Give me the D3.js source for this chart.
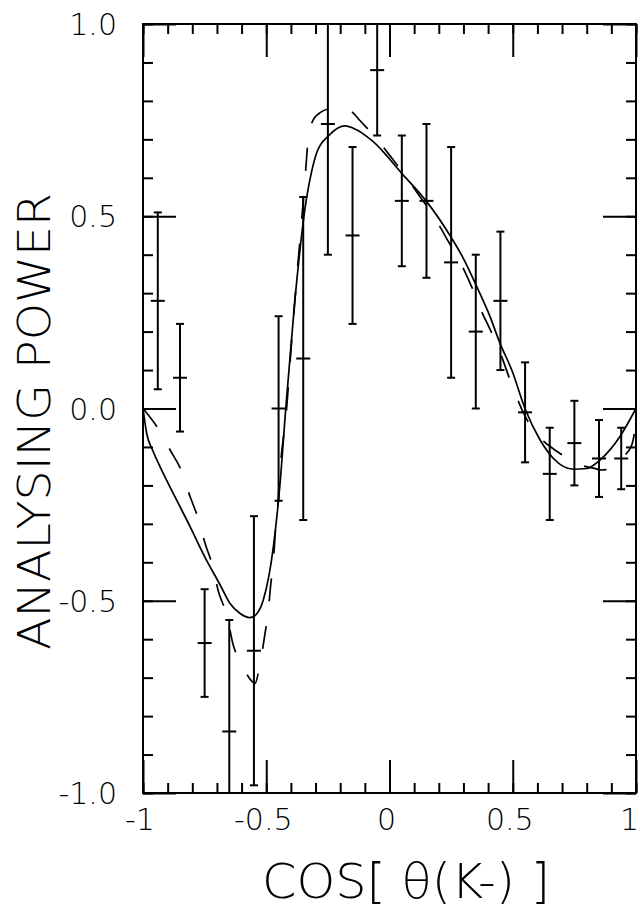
<!DOCTYPE html>
<html>
<head>
<meta charset="utf-8">
<script src="https://cdn.jsdelivr.net/npm/d3@7/dist/d3.min.js"></script>
<style>
  html, body { margin: 0; padding: 0; background: #fff; }
  svg { display: block; }
  text { font-family: "DejaVu Sans", sans-serif; font-weight: 200; fill: #000; }
</style>
</head>
<body>
<svg id="chart" width="640" height="909"></svg>
<script>
// ---- data ----
const cosTheta = [-0.94, -0.85, -0.75, -0.65, -0.55, -0.45, -0.35, -0.25, -0.15, -0.05,
                   0.05,  0.15,  0.25,  0.35,  0.45,  0.55,  0.65,  0.75,  0.85,  0.94];
const power    = [ 0.28,  0.08, -0.61, -0.84, -0.63,  0.00,  0.13,  0.74,  0.45,  0.88,
                   0.54,  0.54,  0.38,  0.20,  0.28, -0.01, -0.17, -0.09, -0.13, -0.13];
const powerErr = [ 0.23,  0.14,  0.14,  0.29,  0.35,  0.24,  0.42,  0.34,  0.23,  0.17,
                   0.17,  0.20,  0.30,  0.20,  0.18,  0.13,  0.12,  0.11,  0.10,  0.08];

const solidX = [-1.0, -0.985, -0.96, -0.931, -0.87, -0.809, -0.75, -0.687, -0.647, -0.606, -0.566,
                -0.54, -0.512, -0.471, -0.444, -0.421, -0.386, -0.337, -0.316, -0.295, -0.246,
                -0.18, -0.147, -0.066, 0.049, 0.151, 0.252, 0.30, 0.354, 0.408, 0.448, 0.496,
                0.552, 0.611, 0.665, 0.746, 0.80, 0.854, 0.935, 1.0];
const solidY = [0.0, -0.065, -0.11, -0.151, -0.23, -0.307, -0.385, -0.459, -0.507, -0.533, -0.544,
                -0.535, -0.498, -0.359, -0.195, -0.001, 0.267, 0.545, 0.616, 0.666, 0.710,
                0.735, 0.729, 0.694, 0.612, 0.538, 0.443, 0.39, 0.317, 0.239, 0.170, 0.100,
                -0.004, -0.082, -0.130, -0.158, -0.156, -0.134, -0.073, 0.0];

const dashedX = [-1.0, -0.944, -0.89, -0.843, -0.809, -0.776, -0.748, -0.717, -0.694, -0.66, -0.634,
                 -0.60, -0.57, -0.546, -0.525, -0.505, -0.492, -0.482, -0.471, -0.464, -0.455,
                 -0.44, -0.42, -0.40, -0.375, -0.355, -0.34, -0.33, -0.31, -0.28, -0.24, -0.19,
                 -0.15, -0.12, -0.045, 0.013, 0.076, 0.124, 0.191, 0.239, 0.293, 0.333, 0.374,
                 0.415, 0.455, 0.489, 0.55, 0.60, 0.644, 0.725, 0.78, 0.827, 0.86, 0.915, 0.95,
                 0.983, 1.0];
const dashedY = [0.0, -0.047, -0.108, -0.164, -0.229, -0.286, -0.351, -0.411, -0.476, -0.537, -0.615,
                 -0.663, -0.70, -0.715, -0.663, -0.585, -0.528, -0.459, -0.398, -0.329, -0.268,
                 -0.13, -0.02, 0.15, 0.35, 0.50, 0.62, 0.70, 0.75, 0.77, 0.78, 0.783,
                 0.77, 0.749, 0.696, 0.648, 0.594, 0.551, 0.488, 0.434, 0.373, 0.317, 0.252,
                 0.196, 0.135, 0.074, -0.02, -0.07, -0.095, -0.130, -0.148, -0.155, -0.16, -0.151, -0.125,
                 -0.095, -0.04];

const xMajorTicks = [-1, -0.5, 0, 0.5, 1];
const xTickLabels = ["-1", "-0.5", "0", "0.5", "1"];
const yMajorTicks = [-1, -0.5, 0, 0.5, 1];
const yTickLabels = ["-1.0", "-0.5", "0.0", "0.5", "1.0"];
const xTitle = "COS[ \u03B8(K-) ]";
const yTitle = "ANALYSING POWER";

// ---- layout ----
const L = 143, R = 636, T = 24, B = 793;
const svg = d3.select("#chart");
const x = d3.scaleLinear().domain([-1, 1]).range([L, R]);
const y = d3.scaleLinear().domain([-1, 1]).range([B, T]);
const minorVals = d3.range(-10, 11).map(i => i / 10);

function styleAxis(g) {
  g.select(".domain").remove();
  g.selectAll(".tick line").attr("stroke", "#000").attr("stroke-width", 2);
  g.selectAll(".tick text").remove();
}

// minor ticks on all four sides
svg.append("g").attr("transform", `translate(0,${B})`)
  .call(d3.axisBottom(x).tickValues(minorVals).tickSizeInner(-10).tickSizeOuter(0)).call(styleAxis);
svg.append("g").attr("transform", `translate(0,${T})`)
  .call(d3.axisTop(x).tickValues(minorVals).tickSizeInner(-10).tickSizeOuter(0)).call(styleAxis);
svg.append("g").attr("transform", `translate(${L},0)`)
  .call(d3.axisLeft(y).tickValues(minorVals).tickSizeInner(-10).tickSizeOuter(0)).call(styleAxis);
svg.append("g").attr("transform", `translate(${R},0)`)
  .call(d3.axisRight(y).tickValues(minorVals).tickSizeInner(-10).tickSizeOuter(0)).call(styleAxis);
// major ticks
svg.append("g").attr("transform", `translate(0,${B})`)
  .call(d3.axisBottom(x).tickValues(xMajorTicks).tickSizeInner(-33).tickSizeOuter(0)).call(styleAxis);
svg.append("g").attr("transform", `translate(0,${T})`)
  .call(d3.axisTop(x).tickValues(xMajorTicks).tickSizeInner(-33).tickSizeOuter(0)).call(styleAxis);
svg.append("g").attr("transform", `translate(${L},0)`)
  .call(d3.axisLeft(y).tickValues(yMajorTicks).tickSizeInner(-33).tickSizeOuter(0)).call(styleAxis);
svg.append("g").attr("transform", `translate(${R},0)`)
  .call(d3.axisRight(y).tickValues(yMajorTicks).tickSizeInner(-33).tickSizeOuter(0)).call(styleAxis);

// frame
svg.append("rect").attr("x", L).attr("y", T).attr("width", R - L).attr("height", B - T)
  .attr("fill", "none").attr("stroke", "#000").attr("stroke-width", 2);

// tick labels
svg.append("g").selectAll("text").data(xMajorTicks).join("text")
  .attr("x", d => d === 1 ? 639 : x(d) - 3).attr("y", 830)
  .attr("text-anchor", d => d === 1 ? "end" : "middle").attr("font-size", 30)
  .text((d, i) => xTickLabels[i]);
svg.append("g").selectAll("text").data(yMajorTicks).join("text")
  .attr("x", 117).attr("y", d => y(d) + 11)
  .attr("text-anchor", "end").attr("font-size", 30)
  .text((d, i) => yTickLabels[i]);

// titles
svg.append("text").attr("x", 406).attr("y", 898).attr("text-anchor", "middle")
  .attr("font-size", 48).attr("textLength", 288).attr("lengthAdjust", "spacingAndGlyphs")
  .text(xTitle);
svg.append("text").attr("transform", "translate(50,421.5) rotate(-90)")
  .attr("text-anchor", "middle").attr("font-size", 45)
  .attr("textLength", 457).attr("lengthAdjust", "spacingAndGlyphs")
  .text(yTitle);

// clip
svg.append("clipPath").attr("id", "plotclip").append("rect")
  .attr("x", L).attr("y", T).attr("width", R - L).attr("height", B - T);
const plot = svg.append("g").attr("clip-path", "url(#plotclip)");

// curves
const line = d3.line().x(d => x(d[0])).y(d => y(d[1])).curve(d3.curveMonotoneX);
plot.append("path").datum(solidX.map((v, i) => [v, solidY[i]]))
  .attr("d", line).attr("fill", "none").attr("stroke", "#000").attr("stroke-width", 1.7);
plot.append("path").datum(dashedX.map((v, i) => [v, dashedY[i]]))
  .attr("d", line).attr("fill", "none").attr("stroke", "#000").attr("stroke-width", 1.7)
  .attr("stroke-dasharray", "23,25");

// data points with error bars
const pts = cosTheta.map((c, i) => ({ c, p: power[i], e: powerErr[i] }));
const pg = plot.append("g").attr("stroke", "#000").attr("stroke-width", 2);
pg.selectAll(".eb").data(pts).join("line")
  .attr("x1", d => x(d.c)).attr("x2", d => x(d.c))
  .attr("y1", d => y(d.p - d.e)).attr("y2", d => y(d.p + d.e));
pg.selectAll(".cross").data(pts).join("line")
  .attr("x1", d => x(d.c) - 7).attr("x2", d => x(d.c) + 7)
  .attr("y1", d => y(d.p)).attr("y2", d => y(d.p));
const caps = [];
pts.forEach(d => {
  if (d.p + d.e <= 1) caps.push({ c: d.c, v: d.p + d.e });
  if (d.p - d.e >= -1) caps.push({ c: d.c, v: d.p - d.e });
});
pg.selectAll(".cap").data(caps).join("line")
  .attr("x1", d => x(d.c) - 4).attr("x2", d => x(d.c) + 4)
  .attr("y1", d => y(d.v)).attr("y2", d => y(d.v));
</script>
</body>
</html>
